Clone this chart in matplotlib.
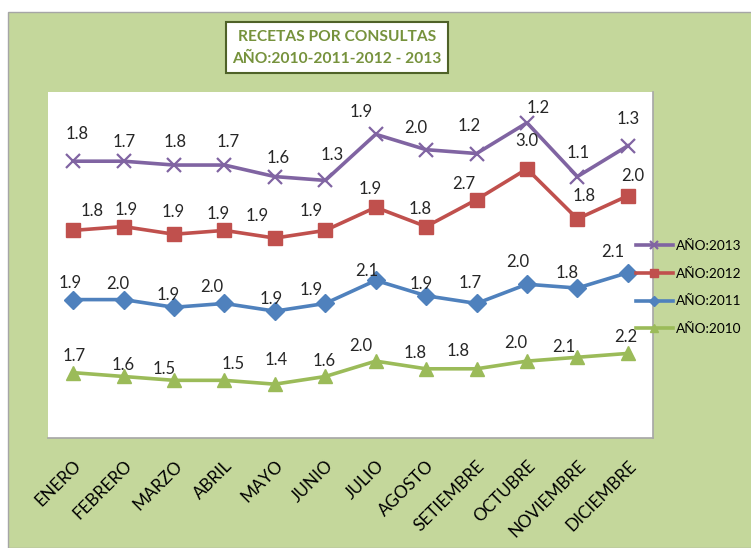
# Recetas por consultas, 2010-2013 (stacked line chart, Excel style)

from matplotlib import pyplot as plt
from matplotlib.patches import Rectangle
import numpy as np

meses = ['ENERO', 'FEBRERO', 'MARZO', 'ABRIL', 'MAYO', 'JUNIO', 'JULIO',
         'AGOSTO', 'SETIEMBRE', 'OCTUBRE', 'NOVIEMBRE', 'DICIEMBRE']

anio_2010 = [1.7, 1.6, 1.5, 1.5, 1.4, 1.6, 2.0, 1.8, 1.8, 2.0, 2.1, 2.2]
anio_2011 = [1.9, 2.0, 1.9, 2.0, 1.9, 1.9, 2.1, 1.9, 1.7, 2.0, 1.8, 2.1]
anio_2012 = [1.8, 1.9, 1.9, 1.9, 1.9, 1.9, 1.9, 1.8, 2.7, 3.0, 1.8, 2.0]
anio_2013 = [1.8, 1.7, 1.8, 1.7, 1.6, 1.3, 1.9, 2.0, 1.2, 1.2, 1.1, 1.3]

# data label offsets in pixels (dx right, dy down), as placed in the original
off_2010 = [(1, -17), (0, -11), (-10, -11), (9, -16), (1, -24), (-1, -15),
            (-15, -15), (-11, -16), (-18, -18), (-11, -18), (-14, -10), (-2, -16)]
off_2011 = [(-3, -17), (-6, -16), (-6, -12), (-13, -16), (-4, -12), (-14, -13),
            (-9, -9), (-5, -12), (-6, -20), (-9, -22), (-10, -15), (-15, -21)]
off_2012 = [(19, -19), (3, -17), (-1, -22), (-6, -16), (-18, -22), (-14, -19),
            (-6, -18), (-6, -18), (-13, -16), (0, -28), (7, -23), (5, -20)]
off_2013 = [(4, -27), (1, -19), (1, -23), (4, -23), (3, -19), (7, -25),
            (-15, -22), (-10, -22), (-7, -28), (11, -15), (1, -24), (0, -27)]

plt.rcParams['font.family'] = ['Lato', 'DejaVu Sans']

W, H = 751, 548
fig = plt.figure(figsize=(W / 100, H / 100), dpi=100, facecolor='white')

# green chart area behind everything
fig.add_artist(Rectangle((8 / W, 0), 1, 1 - 12 / H, transform=fig.transFigure,
                         facecolor='#C4D79B', edgecolor='#A6A6A6', lw=1, zorder=-10))

ax = fig.add_axes([48 / W, 1 - 438 / H, (653 - 48) / W, (438 - 92) / H])
ax.set_facecolor('white')

x = np.arange(len(meses))
series = [
    ('AÑO:2010', anio_2010, off_2010, '#9BBB59', '^', 10, 1),
    ('AÑO:2011', anio_2011, off_2011, '#4F81BD', 'D', 9, 1),
    ('AÑO:2012', anio_2012, off_2012, '#C0504D', 's', 10, 1),
    ('AÑO:2013', anio_2013, off_2013, '#8064A2', 'x', 10, 1.6),
]

base = np.zeros(len(meses))
handles = {}
for nombre, vals, offs, col, mk, ms, mew in series:
    base = base + np.array(vals)
    line, = ax.plot(x, base, color=col, lw=2.6, marker=mk, markersize=ms,
                    markeredgewidth=mew, markeredgecolor=col, markerfacecolor=col,
                    label=nombre, zorder=3)
    handles[nombre] = line
    for i, v in enumerate(vals):
        dx, dy = offs[i]
        ax.annotate(f'{v:.1f}', (x[i], base[i]), xytext=(dx * 0.72, -dy * 0.72),
                    textcoords='offset points', ha='center', va='center',
                    fontsize=12, color='#262626', zorder=4)

ax.set_xlim(-0.5, len(meses) - 0.5)
ax.set_ylim(0, 9)
ax.set_yticks([])
ax.set_xticks(x)
ax.set_xticklabels(meses, rotation=45, ha='right', va='top',
                   rotation_mode='anchor', fontsize=12.3, color='black')
ax.tick_params(axis='x', length=0, pad=14)
for s in ['top', 'left']:
    ax.spines[s].set_visible(False)
for s in ['bottom', 'right']:
    ax.spines[s].set_color('#A6A6A6')
    ax.spines[s].set_linewidth(1.2)

order = ['AÑO:2013', 'AÑO:2012', 'AÑO:2011', 'AÑO:2010']
fig.legend([handles[k] for k in order], order, loc='upper left',
           bbox_to_anchor=(636 / W, 1 - 240 / H), frameon=False, fontsize=9.8,
           handlelength=2.7, handletextpad=0.25, labelspacing=1.15,
           borderpad=0, borderaxespad=0, markerscale=0.55)

# title box
fig.add_artist(Rectangle((226 / W, 1 - 73 / H), 222 / W, 51 / H,
                         transform=fig.transFigure, facecolor='white',
                         edgecolor='#4F6228', lw=1.5))
fig.text(337 / W, 1 - 37 / H, 'RECETAS POR CONSULTAS', ha='center', va='center',
         fontsize=11.2, fontweight='bold', color='#76923C')
fig.text(337 / W, 1 - 59 / H, 'AÑO:2010-2011-2012 - 2013', ha='center', va='center',
         fontsize=11.2, fontweight='bold', color='#76923C')

fig.savefig('out.png', dpi=100)
